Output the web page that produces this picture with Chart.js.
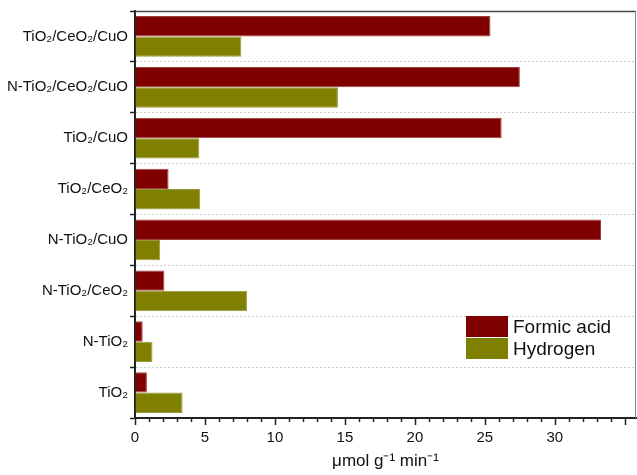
<!DOCTYPE html>
<html>
<head>
<meta charset="utf-8">
<script src="https://cdn.jsdelivr.net/npm/chart.js@4.4.1/dist/chart.umd.min.js"></script>
<style>
  html, body { margin: 0; padding: 0; background: #fff; }
  #wrap { width: 637px; height: 475px; }
</style>
</head>
<body>
<div id="wrap"><canvas id="rateChart"></canvas></div>
<script>
// values (µmol g-1 min-1)
const catalysts = [
    'TiO₂/CeO₂/CuO',
    'N-TiO₂/CeO₂/CuO',
    'TiO₂/CuO',
    'TiO₂/CeO₂',
    'N-TiO₂/CuO',
    'N-TiO₂/CeO₂',
    'N-TiO₂',
    'TiO₂'
];
const formicAcid = [25.4, 27.5, 26.2, 2.4, 33.3, 2.1, 0.55, 0.85];
const hydrogen = [7.6, 14.5, 4.6, 4.65, 1.8, 8.0, 1.25, 3.4];
const xMajorTicks = [0, 5, 10, 15, 20, 25, 30, 35];
const xMinorStep = 1;
const xAxisTitle = 'μmol g⁻¹ min⁻¹';

const FONT = '"Liberation Sans", Arial, sans-serif';
Chart.defaults.font.family = FONT;
Chart.defaults.color = '#111';

// top / right frame and the major + minor ticks under the x axis
const frameAndTicks = {
    id: 'frameAndTicks',
    afterDraw(chart) {
        const { ctx, chartArea: a, scales: { x } } = chart;
        ctx.save();
        ctx.strokeStyle = '#444';
        ctx.lineWidth = 1.5;
        ctx.beginPath();
        ctx.moveTo(a.left, a.top + 0.5);
        ctx.lineTo(a.right, a.top + 0.5);
        ctx.stroke();
        ctx.strokeStyle = '#888';
        ctx.lineWidth = 1;
        ctx.beginPath();
        ctx.moveTo(a.right - 0.5, a.top);
        ctx.lineTo(a.right - 0.5, a.bottom);
        ctx.stroke();

        ctx.strokeStyle = '#222';
        ctx.lineWidth = 1.5;
        const last = xMajorTicks[xMajorTicks.length - 1];
        for (let v = 0; v <= last; v += xMinorStep) {
            const px = Math.round(x.getPixelForValue(v)) + 0.5;
            const len = xMajorTicks.includes(v) ? 7 : 4;
            ctx.beginPath();
            ctx.moveTo(px, a.bottom);
            ctx.lineTo(px, a.bottom + len);
            ctx.stroke();
        }
        ctx.restore();
    }
};

// legend drawn inside the plot area
const insideLegend = {
    id: 'insideLegend',
    afterDraw(chart) {
        const ctx = chart.ctx;
        const bx = 466, by = 316, bw = 42, bh = 21;
        ctx.save();
        chart.data.datasets.forEach((ds, i) => {
            const y = by + i * (bh + 1);
            ctx.fillStyle = ds.backgroundColor;
            ctx.fillRect(bx, y, bw, bh);
            ctx.fillStyle = '#111';
            ctx.font = '19px ' + FONT;
            ctx.textBaseline = 'middle';
            ctx.fillText(ds.label, bx + bw + 5, y + bh / 2 + 1);
        });
        ctx.restore();
    }
};

const ctx = document.getElementById('rateChart').getContext('2d');
const rateChart = new Chart(ctx, {
    type: 'bar',
    data: {
        labels: catalysts,
        datasets: [
            {
                label: 'Formic acid',
                data: formicAcid,
                backgroundColor: '#800000',
                borderColor: '#9a4040',
                borderWidth: 1,
                categoryPercentage: 0.8,
                barPercentage: 1.0
            },
            {
                label: 'Hydrogen',
                data: hydrogen,
                backgroundColor: '#808000',
                borderColor: '#9a9a40',
                borderWidth: 1,
                categoryPercentage: 0.8,
                barPercentage: 1.0
            }
        ]
    },
    options: {
        indexAxis: 'y',
        responsive: true,
        maintainAspectRatio: false,
        animation: false,
        layout: { padding: { top: 11, right: 1, left: 0, bottom: 0 } },
        plugins: {
            legend: { display: false },
            tooltip: { enabled: false }
        },
        scales: {
            x: {
                type: 'linear',
                min: 0,
                max: 35.8,
                afterFit(s) { s.height = 57; s.paddingRight = 0; s.paddingLeft = 0; },
                ticks: {
                    stepSize: xMinorStep,
                    autoSkip: false,
                    maxRotation: 0,
                    padding: 4,
                    font: { size: 15 },
                    color: '#111',
                    callback: v => (xMajorTicks.includes(v) ? String(v) : '')
                },
                grid: {
                    drawOnChartArea: false,
                    drawTicks: true,
                    tickLength: 7,
                    tickColor: 'rgba(0,0,0,0)'
                },
                border: { display: true, color: '#222', width: 2 },
                title: {
                    display: true,
                    text: xAxisTitle,
                    font: { size: 17 },
                    color: '#111',
                    padding: { top: 0, bottom: 3 }
                }
            },
            y: {
                afterFit(s) { s.width = 135; },
                ticks: {
                    padding: 2,
                    font: { size: 15 },
                    color: '#111',
                    autoSkip: false
                },
                grid: {
                    offset: true,
                    color: '#cfcfcf',
                    lineWidth: 1,
                    tickLength: 5,
                    tickColor: '#222',
                    tickWidth: 1.5
                },
                border: { display: true, color: '#222', width: 2, dash: [2, 2] }
            }
        }
    },
    plugins: [frameAndTicks, insideLegend]
});
</script>
</body>
</html>
